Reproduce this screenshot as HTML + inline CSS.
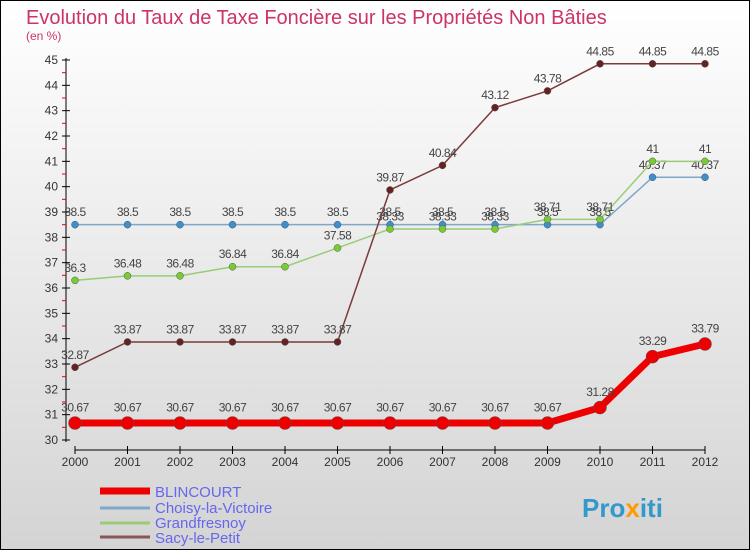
<!DOCTYPE html>
<html><head><meta charset="utf-8"><style>
body{margin:0}
svg{display:block;font-family:"Liberation Sans",sans-serif}
</style></head><body>
<svg id="c" width="750" height="550" xmlns="http://www.w3.org/2000/svg">
<defs><linearGradient id="bg" x1="0" y1="0" x2="0" y2="1"><stop offset="0" stop-color="#ffffff"/><stop offset="1" stop-color="#d4d4d4"/></linearGradient></defs>
<rect x="0.5" y="0.5" width="749" height="549" fill="url(#bg)" stroke="#000"/>
<text x="26" y="24" font-size="20" fill="#cc3366">Evolution du Taux de Taxe Foncière sur les Propriétés Non Bâties</text>
<text x="26" y="40" font-size="12" fill="#cc3366">(en %)</text>
<g id="axes"></g><g id="series"></g>
<g>
<line x1="100" y1="491" x2="150" y2="491" stroke="#ee0000" stroke-width="7"/>
<text x="155" y="497" font-size="15" fill="#6666ee">BLINCOURT</text>
<line x1="100" y1="508" x2="150" y2="508" stroke="#7fa8c8" stroke-width="3"/>
<text x="155" y="513" font-size="15" fill="#6666ee">Choisy-la-Victoire</text>
<line x1="100" y1="523" x2="150" y2="523" stroke="#99cc77" stroke-width="3"/>
<text x="155" y="528" font-size="15" fill="#6666ee">Grandfresnoy</text>
<line x1="100" y1="537" x2="150" y2="537" stroke="#8a5555" stroke-width="3"/>
<text x="155" y="543" font-size="15" fill="#6666ee">Sacy-le-Petit</text>
</g>
<text x="582" y="517" font-size="26" font-weight="bold" fill="#3399cc">Pro<tspan fill="#ff9900">x</tspan>iti</text>
</svg>
<script>
const years=[2000,2001,2002,2003,2004,2005,2006,2007,2008,2009,2010,2011,2012];
const yTicks=[30,31,32,33,34,35,36,37,38,39,40,41,42,43,44,45];
const blincourt=[30.67,30.67,30.67,30.67,30.67,30.67,30.67,30.67,30.67,30.67,31.28,33.29,33.79];
const choisy=[38.5,38.5,38.5,38.5,38.5,38.5,38.5,38.5,38.5,38.5,38.5,40.37,40.37];
const grandfresnoy=[36.3,36.48,36.48,36.84,36.84,37.58,38.33,38.33,38.33,38.71,38.71,41,41];
const sacy=[32.87,33.87,33.87,33.87,33.87,33.87,39.87,40.84,43.12,43.78,44.85,44.85,44.85];
const NS="http://www.w3.org/2000/svg";
const X=i=>75+i*52.5, Y=v=>440-(v-30)*(380/15);
function mk(t,a,p){const e=document.createElementNS(NS,t);for(const k in a)e.setAttribute(k,a[k]);p.appendChild(e);return e;}
const ax=document.getElementById('axes');
let e=mk('line',{x1:66,y1:58,x2:66,y2:442,stroke:'#000'},ax);


e=mk('line',{x1:75,y1:450,x2:705,y2:450,stroke:'#000'},ax);


yTicks.forEach(v=>{
 mk('line',{x1:62,y1:Y(v),x2:70,y2:Y(v),stroke:'#000'},ax);
 if(v<45)mk('line',{x1:62,y1:Y(v+0.5),x2:66,y2:Y(v+0.5),stroke:'#e00'},ax);
 const t=mk('text',{x:58,y:Y(v)+4,'font-size':12,'text-anchor':'end',fill:'#333'},ax);t.textContent=v;
 
 
});
years.forEach((y,i)=>{
 mk('line',{x1:X(i),y1:446,x2:X(i),y2:454,stroke:'#000'},ax);
 const t=mk('text',{x:X(i),y:466,'font-size':12,'text-anchor':'middle',fill:'#333'},ax);t.textContent=y;
 
 
});
const sg=document.getElementById('series');
function draw(data,name,col,dot,w,r){
 const g=mk('g',{},sg);
 
 
 const p=mk('polyline',{points:data.map((v,i)=>X(i)+','+Y(v)).join(' '),fill:'none',stroke:col,'stroke-width':w},g);
 
 
 data.forEach((v,i)=>{
  const c=mk('circle',{cx:X(i),cy:Y(v),r:r,fill:dot,stroke:'#555','stroke-width':0.5},g);
  
  
  const t=mk('text',{x:X(i),y:Y(v)-(r+5),'font-size':12,'text-anchor':'middle',fill:'#444','letter-spacing':'-0.5'},g);
  t.textContent=v;
  
  
 });
}
draw(choisy,'choisy','#7fa8c8','#3d8fd0',1.5,3.5);
draw(grandfresnoy,'grandfresnoy','#99cc77','#77cc33',1.5,3.5);
draw(sacy,'sacy','#7a3a3a','#662222',1.5,3.5);
draw(blincourt,'blincourt','#ee0000','#ee0000',7,6.5);
</script>
</body></html>
